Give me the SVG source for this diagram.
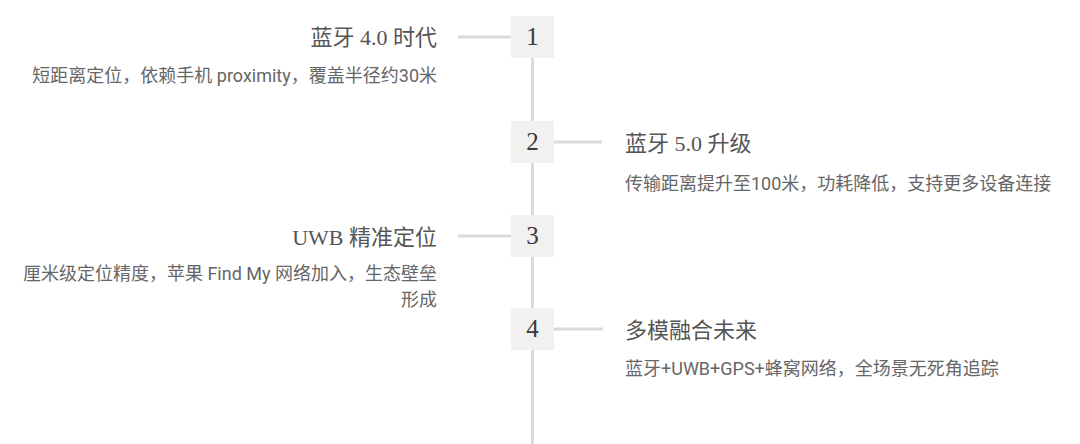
<svg xmlns="http://www.w3.org/2000/svg" width="1080" height="444" viewBox="0 0 1080 444">
<style>
.bg{fill:#ffffff}
.line{stroke:#d9d9d9;stroke-width:3;fill:none}
.box{fill:#f3f1f0}
.num{font-family:"Liberation Serif","DejaVu Serif",serif;font-size:25px;fill:#3a3a3a;text-anchor:middle}
.title{font-family:"Liberation Serif","Noto Sans CJK SC",serif;font-size:22px;fill:#555}
.desc{font-family:Roboto,"Noto Sans CJK SC",sans-serif;font-size:18px;fill:#666}
.l{text-anchor:end}
.r{text-anchor:start}
</style>
<rect class="bg" x="0" y="0" width="1080" height="444"/>
<g id="connectors">
<line class="line" x1="532.5" y1="37" x2="532.5" y2="444"/>
<line class="line" x1="458" y1="37" x2="511" y2="37"/>
<line class="line" x1="554" y1="142" x2="602" y2="142"/>
<line class="line" x1="458" y1="236" x2="511" y2="236"/>
<line class="line" x1="554" y1="329" x2="603" y2="329"/>
</g>
<g id="node1">
<rect class="box" x="511" y="16" width="43" height="42"/>
<text class="num" x="532.5" y="45">1</text>
<text class="title l" x="437" y="45">蓝牙 4.0 时代</text>
<text class="desc l" x="437" y="82">短距离定位，依赖手机 proximity，覆盖半径约30米</text>
</g>
<g id="node2">
<rect class="box" x="511" y="121" width="43" height="42"/>
<text class="num" x="532.5" y="150">2</text>
<text class="title r" x="625" y="151">蓝牙 5.0 升级</text>
<text class="desc r" x="625" y="190">传输距离提升至100米，功耗降低，支持更多设备连接</text>
</g>
<g id="node3">
<rect class="box" x="511" y="215" width="43" height="42"/>
<text class="num" x="532.5" y="244">3</text>
<text class="title l" x="437" y="245">UWB 精准定位</text>
<text class="desc l" x="437" y="280">厘米级定位精度，苹果 Find My 网络加入，生态壁垒</text>
<text class="desc l" x="437" y="306">形成</text>
</g>
<g id="node4">
<rect class="box" x="511" y="308" width="43" height="42"/>
<text class="num" x="532.5" y="337">4</text>
<text class="title r" x="625" y="338">多模融合未来</text>
<text class="desc r" x="625" y="375">蓝牙+UWB+GPS+蜂窝网络，全场景无死角追踪</text>
</g>
</svg>
